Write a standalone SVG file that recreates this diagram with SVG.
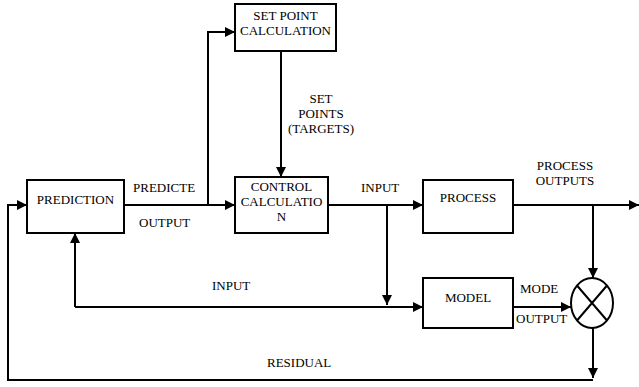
<svg xmlns="http://www.w3.org/2000/svg" width="639" height="387" viewBox="0 0 639 387">
<style>
.box{fill:#fff;stroke:#000;stroke-width:2}
.ln{fill:none;stroke:#000;stroke-width:2}
.c{text-anchor:middle}
</style>
<defs>
<marker id="ah" viewBox="0 0 10 10" refX="10" refY="5" markerWidth="10" markerHeight="10" markerUnits="userSpaceOnUse" orient="auto">
<path d="M0,0 L10,5 L0,10 Z" fill="#000"/>
</marker>
</defs>
<g id="connectors">
<path class="ln" d="M124,205 H235" marker-end="url(#ah)"/>
<path class="ln" d="M208,205 V32 H235" marker-end="url(#ah)"/>
<path class="ln" d="M281,51 V177" marker-end="url(#ah)"/>
<path class="ln" d="M328,205 H423" marker-end="url(#ah)"/>
<path class="ln" d="M387,205 V305" marker-end="url(#ah)"/>
<path class="ln" d="M75,307 H423" marker-end="url(#ah)"/>
<path class="ln" d="M75,307 V233" marker-end="url(#ah)"/>
<path class="ln" d="M513,205 H639" marker-end="url(#ah)"/>
<path class="ln" d="M593,205 V278" marker-end="url(#ah)"/>
<path class="ln" d="M513,307 H571" marker-end="url(#ah)"/>
<path class="ln" d="M593,328 V378" marker-end="url(#ah)"/>
<path class="ln" d="M593,380 H8 V205 H27" marker-end="url(#ah)"/>
</g>
<g font-family="Liberation Serif, Times New Roman, serif" font-size="13" fill="#000">
<g id="setpoint">
<rect class="box" x="235" y="4" width="101" height="47"/>
<text class="c" x="285.5" y="20">SET POINT</text>
<text class="c" x="285.5" y="35">CALCULATION</text>
</g>
<g id="prediction">
<rect class="box" x="27" y="180" width="97" height="53"/>
<text class="c" x="75.5" y="204">PREDICTION</text>
</g>
<g id="control">
<rect class="box" x="235" y="177" width="93" height="56"/>
<text class="c" x="281.5" y="191">CONTROL</text>
<text class="c" x="281.5" y="206">CALCULATIO</text>
<text class="c" x="281.5" y="221">N</text>
</g>
<g id="process">
<rect class="box" x="423" y="180" width="90" height="53"/>
<text class="c" x="468" y="202">PROCESS</text>
</g>
<g id="model">
<rect class="box" x="423" y="278" width="90" height="50"/>
<text class="c" x="468" y="302">MODEL</text>
</g>
<g id="comparator">
<ellipse cx="592" cy="303" rx="21" ry="25" fill="#fff" stroke="#000" stroke-width="2"/>
<path class="ln" d="M577,285.5 L607,320.5 M607,285.5 L577,320.5"/>
</g>
<g id="labels">
<text class="c" x="321" y="103">SET</text>
<text class="c" x="321" y="118">POINTS</text>
<text class="c" x="321" y="133">(TARGETS)</text>
<text x="133" y="192">PREDICTE</text>
<text x="139" y="227">OUTPUT</text>
<text x="361" y="192">INPUT</text>
<text class="c" x="565" y="170">PROCESS</text>
<text class="c" x="565" y="185">OUTPUTS</text>
<text x="212" y="290">INPUT</text>
<text x="520" y="293">MODE</text>
<text x="516" y="323">OUTPUT</text>
<text x="267" y="367">RESIDUAL</text>
</g>
</g>
</svg>
